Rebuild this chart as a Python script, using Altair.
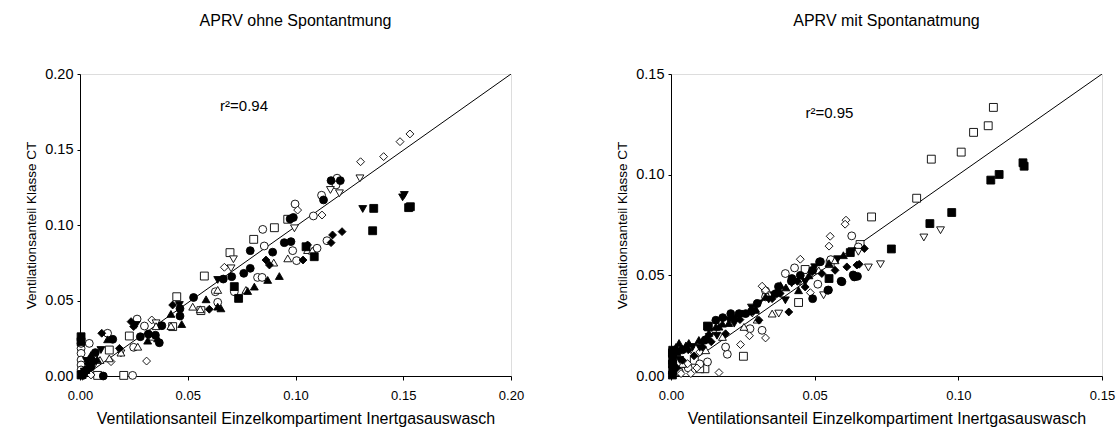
import altair as alt
import pandas as pd

# ---------------- data: left panel (APRV ohne Spontanatmung) ----------------
L_fc_x = [0.1165, 0.1208, 0.113, 0.099, 0.0975, 0.0948, 0.0979, 0.0894, 0.079, 0.076, 0.079, 0.0704, 0.0665, 0.0527, 0.0464, 0.0464, 0.038, 0.0368, 0.0317, 0.035, 0.0152, 0.0071, 0.0108, 0.002, 0.005, 0.028, 0.003]
L_fc_y = [0.1294, 0.1294, 0.1166, 0.105, 0.104, 0.0883, 0.089, 0.082, 0.083, 0.068, 0.0713, 0.0658, 0.0642, 0.052, 0.0446, 0.0397, 0.0333, 0.022, 0.0278, 0.027, 0.0243, 0.0155, 0.0, 0.003, 0.006, 0.026, 0.004]
L_oc_x = [0.1193, 0.1188, 0.1121, 0.0998, 0.1083, 0.0848, 0.0855, 0.0987, 0.1005, 0.11, 0.1146, 0.0824, 0.0845, 0.0639, 0.0716, 0.0628, 0.0265, 0.0299, 0.0249, 0.0128, 0.0043, 0.0244, 0.0005, 0.0005, 0.0005, 0.0005, 0.0005, 0.0005, 0.0043]
L_oc_y = [0.131, 0.1265, 0.1197, 0.1139, 0.106, 0.0971, 0.0861, 0.083, 0.0764, 0.0846, 0.0896, 0.0653, 0.0653, 0.0488, 0.0558, 0.0558, 0.0377, 0.0331, 0.019, 0.0283, 0.0216, 0.0004, 0.0183, 0.015, 0.0106, 0.0073, 0.004, 0.0216, 0.003]
L_otu_x = [0.0899, 0.0964, 0.1056, 0.1078, 0.0639, 0.077, 0.0523, 0.0558, 0.0422, 0.0337, 0.0268, 0.019, 0.0136, 0.0093, 0.0353]
L_otu_y = [0.0751, 0.0779, 0.0834, 0.083, 0.057, 0.057, 0.0459, 0.0442, 0.0331, 0.026, 0.0194, 0.0155, 0.0117, 0.0106, 0.033]
L_ftu_x = [0.0925, 0.0871, 0.0809, 0.0778, 0.0639, 0.0585, 0.0472, 0.0422, 0.036, 0.0314, 0.0128, 0.0051, 0.0028, 0.0654, 0.008]
L_ftu_y = [0.0662, 0.0636, 0.0592, 0.0563, 0.0459, 0.0508, 0.0344, 0.0411, 0.0249, 0.0234, 0.0243, 0.0139, 0.004, 0.0448, 0.011]
L_ftd_x = [0.1505, 0.1497, 0.1312, 0.0639, 0.0461, 0.0097, 0.002, 0.026, 0.003, 0.004, 0.006]
L_ftd_y = [0.1199, 0.1183, 0.1106, 0.0636, 0.047, 0.0172, 0.0029, 0.0338, 0.010, 0.006, 0.009]
L_otd_x = [0.1299, 0.1204, 0.1162, 0.0995, 0.0712, 0.0701, 0.0353, 0.019, 0.0066, 0.0028]
L_otd_y = [0.1309, 0.121, 0.1232, 0.0978, 0.0773, 0.0713, 0.0349, 0.015, 0.0073, 0.0018]
L_fs_x = [0.1525, 0.1533, 0.1363, 0.1358, 0.1087, 0.0736, 0.0005, 0.0005, 0.0005, 0.0716, 0.1049, 0.001]
L_fs_y = [0.1115, 0.1121, 0.111, 0.0962, 0.079, 0.0514, 0.026, 0.0227, 0.0007, 0.0592, 0.0856, 0.001]
L_os_x = [0.0902, 0.0964, 0.0806, 0.0696, 0.0577, 0.0449, 0.0561, 0.0229, 0.0136, 0.0203, 0.0082, 0.043]
L_os_y = [0.0982, 0.1038, 0.0905, 0.0817, 0.0662, 0.0525, 0.0433, 0.0265, 0.0172, 0.0004, 0.0004, 0.0327]
L_fd_x = [0.1216, 0.1172, 0.1165, 0.1056, 0.1035, 0.0863, 0.0879, 0.06, 0.043, 0.0237, 0.0101, 0.0183, 0.0012, 0.0066, 0.0249, 0.004, 0.005]
L_fd_y = [0.0956, 0.0934, 0.0883, 0.0868, 0.0768, 0.0768, 0.0735, 0.0442, 0.047, 0.036, 0.0283, 0.0183, 0.0, 0.0095, 0.0327, 0.008, 0.012]
L_od_x = [0.1531, 0.1485, 0.1409, 0.1302, 0.101, 0.1123, 0.067, 0.0309, 0.0333, 0.0144, 0.0051]
L_od_y = [0.1603, 0.1552, 0.1453, 0.1419, 0.1099, 0.1066, 0.072, 0.0099, 0.0371, 0.0095, 0.0007]

# ---------------- data: right panel (APRV mit Spontanatmung) ----------------
R_os_x = [0.1122, 0.1104, 0.1053, 0.101, 0.0906, 0.0855, 0.0698, 0.0658, 0.0467, 0.0444, 0.0252, 0.0118, 0.010, 0.0081, 0.0554]
R_os_y = [0.1334, 0.1243, 0.121, 0.1112, 0.1077, 0.0883, 0.079, 0.0653, 0.0529, 0.0365, 0.0098, 0.0036, 0.0036, 0.0078, 0.0558]
R_oc_x = [0.0629, 0.0398, 0.043, 0.0329, 0.0196, 0.0317, 0.0511, 0.0556, 0.0652, 0.019, 0.0127, 0.0029, 0.0329, 0.006, 0.010, 0.0275]
R_oc_y = [0.0696, 0.0509, 0.0537, 0.0423, 0.0108, 0.0227, 0.0456, 0.0578, 0.0641, 0.0144, 0.007, 0.002, 0.0393, 0.004, 0.006, 0.0235]
R_od_x = [0.0609, 0.0606, 0.0554, 0.055, 0.045, 0.0317, 0.0329, 0.0485, 0.0329, 0.0273, 0.0242, 0.0167, 0.0069, 0.0035, 0.010, 0.0485, 0.0058, 0.009, 0.0014]
R_od_y = [0.0774, 0.0754, 0.0694, 0.0645, 0.058, 0.0446, 0.0426, 0.0414, 0.0189, 0.020, 0.0156, 0.0017, 0.0012, 0.0012, 0.0119, 0.0509, 0.0061, 0.004, 0.0045]
R_otd_x = [0.088, 0.0938, 0.0729, 0.0687, 0.0531, 0.0652, 0.0448, 0.015, 0.0283, 0.0375, 0.0069]
R_otd_y = [0.0688, 0.0724, 0.0555, 0.0539, 0.0401, 0.0617, 0.0467, 0.0219, 0.031, 0.031, 0.0128]
R_otu_x = [0.0254, 0.0179, 0.0514, 0.0571, 0.0121, 0.0352, 0.004, 0.030]
R_otu_y = [0.0244, 0.0194, 0.0525, 0.0575, 0.0128, 0.031, 0.006, 0.028]
R_fs_x = [0.1225, 0.1229, 0.1142, 0.1113, 0.0977, 0.0901, 0.0767, 0.0624, 0.055, 0.013, 0.0006, 0.0006, 0.0006, 0.0127, 0.0005, 0.0005, 0.002, 0.0005]
R_fs_y = [0.1059, 0.1042, 0.1001, 0.0973, 0.0812, 0.0757, 0.0631, 0.0613, 0.0484, 0.0244, 0.0128, 0.0078, 0.0028, 0.0248, 0.0005, 0.006, 0.012, 0.0115]
R_fc_x = [0.0517, 0.0493, 0.0546, 0.0493, 0.0592, 0.0638, 0.0649, 0.0419, 0.0208, 0.0237, 0.028, 0.0421, 0.0364, 0.0156, 0.052, 0.0634, 0.0595, 0.0548, 0.0374, 0.030, 0.018, 0.012, 0.004, 0.0005, 0.026, 0.045]
R_fc_y = [0.0567, 0.0525, 0.0426, 0.0384, 0.0471, 0.0492, 0.0495, 0.0471, 0.031, 0.031, 0.0321, 0.0484, 0.0409, 0.0277, 0.0568, 0.0502, 0.0468, 0.0427, 0.0444, 0.036, 0.029, 0.018, 0.013, 0.010, 0.031, 0.050]
R_fd_x = [0.0673, 0.0655, 0.0612, 0.0571, 0.041, 0.0352, 0.0306, 0.019, 0.011, 0.004, 0.0467, 0.0525, 0.0647, 0.002, 0.008, 0.014, 0.024, 0.038, 0.044, 0.049, 0.006]
R_fd_y = [0.0633, 0.0555, 0.0542, 0.0525, 0.0318, 0.0384, 0.0277, 0.021, 0.0144, 0.0078, 0.0442, 0.0509, 0.0551, 0.004, 0.010, 0.017, 0.028, 0.041, 0.047, 0.052, 0.013]
R_ftu_x = [0.0375, 0.0381, 0.0179, 0.0225, 0.0017, 0.0052, 0.011, 0.0294, 0.0444, 0.0156, 0.0329, 0.0294, 0.0248, 0.0214, 0.0201, 0.0167, 0.0132, 0.0097, 0.0062, 0.0028, 0.0007, 0.0005, 0.0005, 0.040, 0.048, 0.055, 0.060]
R_ftu_y = [0.0426, 0.0451, 0.026, 0.0293, 0.0144, 0.0152, 0.0177, 0.0335, 0.0426, 0.0244, 0.0394, 0.0328, 0.0311, 0.0295, 0.0263, 0.0245, 0.0214, 0.0179, 0.0164, 0.0164, 0.0129, 0.0079, 0.003, 0.044, 0.050, 0.056, 0.060]
R_ftd_x = [0.0358, 0.0306, 0.0202, 0.0133, 0.0075, 0.0012, 0.0467, 0.0398, 0.0005, 0.0005, 0.003, 0.010, 0.016, 0.022, 0.028, 0.034, 0.042, 0.050, 0.058, 0.063]
R_ftd_y = [0.0401, 0.036, 0.0277, 0.0194, 0.0144, 0.0119, 0.0467, 0.0376, 0.0105, 0.0055, 0.008, 0.014, 0.020, 0.026, 0.034, 0.038, 0.046, 0.054, 0.058, 0.062]

# regression lines (endpoints) and annotations
L_line_x = [0.002, 0.2]
L_line_y = [0.0, 0.2]
R_line_x = [0.0, 0.15]
R_line_y = [0.0, 0.15]
L_r2 = "r\u00b2=0.94"
R_r2 = "r\u00b2=0.95"
L_r2_pos = (0.065, 0.1755)
R_r2_pos = (0.0468, 0.128)
L_title = "APRV ohne Spontantmung"
R_title = "APRV mit Spontanatmung"
x_title = "Ventilationsanteil Einzelkompartiment Inertgasauswasch"
y_title = "Ventilationsanteil Klasse CT"
L_ticks = [0.0, 0.05, 0.10, 0.15, 0.20]
R_ticks = [0.0, 0.05, 0.10, 0.15]

# drawing order: open symbols first, filled ones on top (as in the reference)
codes = ["os", "oc", "od", "otd", "otu", "fs", "fc", "fd", "ftu", "ftd"]
shapes = ["square", "circle", "diamond", "triangle-down", "triangle-up",
          "square", "circle", "diamond", "triangle-up", "triangle-down"]
fills = ["white"] * 5 + ["black"] * 5

FONT = "Liberation Sans"


def frame(prefix):
    g = globals()
    rows = []
    for c in codes:
        xs = g.get(f"{prefix}_{c}_x", [])
        ys = g.get(f"{prefix}_{c}_y", [])
        for a, b in zip(xs, ys):
            rows.append({"x": a, "y": b, "s": c})
    return pd.DataFrame(rows)


def panel(prefix, dmax, ticks, lx, ly, r2, r2pos, title, w):
    df = frame(prefix)
    xs = alt.Scale(domain=[0, dmax], nice=False, zero=False)
    ys = alt.Scale(domain=[0, dmax], nice=False, zero=False)
    xax = alt.Axis(values=ticks, format=".2f", title=x_title, grid=False, tickSize=4,
                   labelPadding=9, labelFontSize=13, titleFontSize=16, titlePadding=8,
                   labelFlush=False,
                   domainColor="black", tickColor="black", labelColor="black",
                   titleColor="black", titleFontWeight="normal", labelFont=FONT, titleFont=FONT)
    yax = alt.Axis(values=ticks, format=".2f", title=y_title, grid=False, tickSize=3,
                   labelPadding=4, labelFontSize=14.5, titleFontSize=13.5, titlePadding=6,
                   labelFlush=False,
                   domainColor="black", tickColor="black", labelColor="black",
                   titleColor="black", titleFontWeight="normal", labelFont=FONT, titleFont=FONT)
    base = alt.Chart(df)
    pts = base.mark_point(size=62, filled=True, stroke="black", strokeWidth=0.9, opacity=1).encode(
        x=alt.X("x:Q", scale=xs, axis=xax),
        y=alt.Y("y:Q", scale=ys, axis=yax),
        shape=alt.Shape("s:N", scale=alt.Scale(domain=codes, range=shapes), legend=None),
        fill=alt.Fill("s:N", scale=alt.Scale(domain=codes, range=fills), legend=None),
    )
    line = alt.Chart(pd.DataFrame({"x": lx, "y": ly})).mark_line(color="black", strokeWidth=1, clip=True).encode(
        x=alt.X("x:Q", scale=xs), y=alt.Y("y:Q", scale=ys))
    txt = alt.Chart(pd.DataFrame({"x": [r2pos[0]], "y": [r2pos[1]], "t": [r2]})).mark_text(
        align="left", baseline="alphabetic", fontSize=15, font=FONT, color="black").encode(
        x=alt.X("x:Q", scale=xs), y=alt.Y("y:Q", scale=ys), text="t:N")
    return alt.layer(line, pts, txt).properties(
        width=w, height=302,
        title=alt.TitleParams(title, fontSize=16, font=FONT, fontWeight="normal", color="black",
                              anchor="middle", offset=21, baseline="bottom"))


left = panel("L", 0.2, L_ticks, L_line_x, L_line_y, L_r2, L_r2_pos, L_title, 431)
right = panel("R", 0.15, R_ticks, R_line_x, R_line_y, R_r2, R_r2_pos, R_title, 431)

chart = alt.hconcat(left, right, spacing=90).properties(
    padding={"left": 24, "top": 12, "right": 0, "bottom": 0}
).configure_view(stroke=None).configure(background="white")

chart.save("out.html", embed_options={"renderer": "svg", "actions": False})
